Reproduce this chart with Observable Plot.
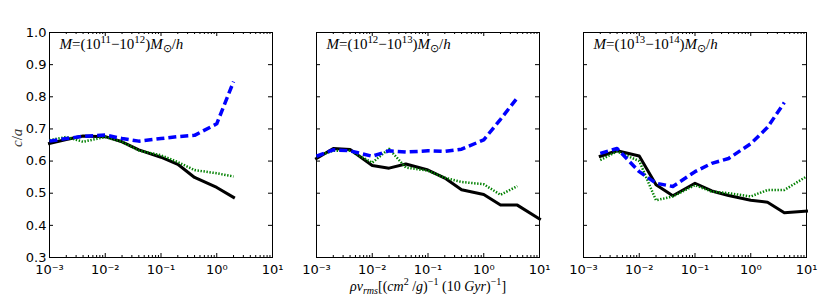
<!DOCTYPE html>
<html><head><meta charset="utf-8">
<script src="https://cdn.jsdelivr.net/npm/d3@7"></script>
<script src="https://cdn.jsdelivr.net/npm/@observablehq/plot@0.6"></script>
<style>
body{margin:0;background:#fff;}
#chart{position:relative;width:830px;height:302px;background:#fff;}
#chart svg{position:absolute;top:0;}
</style></head><body><div id="chart"></div>
<script>
// ---- data ----
const xs = [0.001, 0.002, 0.004, 0.01, 0.02, 0.04, 0.1, 0.2, 0.4, 1, 2, 4, 10];
const panelLabels = ["M=(10^{11}−10^{12})M_{⊙}/h", "M=(10^{12}−10^{13})M_{⊙}/h", "M=(10^{13}−10^{14})M_{⊙}/h"];
const black1 = [0.655, 0.667, 0.678, 0.676, 0.660, 0.635, 0.612, 0.590, 0.549, 0.518, 0.487, null, null];
const green1 = [0.665, 0.675, 0.660, 0.675, 0.660, 0.633, 0.618, 0.597, 0.572, 0.562, 0.552, null, null];
const blue1  = [0.662, 0.670, 0.677, 0.681, 0.670, 0.662, 0.670, 0.676, 0.680, 0.716, 0.847, null, null];
const black2 = [0.608, 0.639, 0.636, 0.586, 0.578, 0.591, 0.572, 0.547, 0.511, 0.496, 0.463, 0.463, 0.420];
const green2 = [0.615, 0.632, 0.632, 0.595, 0.638, 0.580, 0.570, 0.548, 0.535, 0.528, 0.495, 0.522, null];
const blue2  = [0.615, 0.635, 0.632, 0.615, 0.632, 0.628, 0.632, 0.630, 0.637, 0.666, 0.730, 0.797, null];
const black3 = [null, 0.615, 0.632, 0.616, 0.526, 0.492, 0.531, 0.507, 0.493, 0.478, 0.472, 0.439, 0.444];
const green3 = [null, 0.603, 0.630, 0.600, 0.478, 0.490, 0.525, 0.505, 0.500, 0.490, 0.510, 0.510, 0.552];
const blue3  = [null, 0.624, 0.639, 0.567, 0.531, 0.521, 0.567, 0.593, 0.608, 0.654, 0.705, 0.782, null];
const xMajor = [0.001, 0.01, 0.1, 1, 10];
const xTickLabels = ["10⁻³", "10⁻²", "10⁻¹", "10⁰", "10¹"];
const yTicks = [0.3, 0.4, 0.5, 0.6, 0.7, 0.8, 0.9, 1.0];
const yLabel = "c/a";
const xLabel = "ρv_{rms}[(cm^{2} /g)^{−1} (10 Gyr)^{−1}]";

const panels = [
  {label: panelLabels[0], black: black1, green: green1, blue: blue1},
  {label: panelLabels[1], black: black2, green: green2, blue: blue2},
  {label: panelLabels[2], black: black3, green: green3, blue: blue3}
];

// ---- helpers ----
const xMinor = [];
for (const d of [0.001, 0.01, 0.1, 1]) for (let k = 2; k <= 9; k++) xMinor.push(d * k);

const SVGNS = "http://www.w3.org/2000/svg";
function buildMath(textEl, src, fs) {
  textEl.textContent = "";
  const segs = [];
  let i = 0, buf = "";
  while (i < src.length) {
    const c = src[i];
    if ((c === "^" || c === "_") && src[i + 1] === "{") {
      if (buf) segs.push({text: buf, level: 0});
      buf = "";
      const j = src.indexOf("}", i);
      segs.push({text: src.slice(i + 2, j), level: c === "^" ? 1 : -1});
      i = j + 1;
    } else { buf += c; i++; }
  }
  if (buf) segs.push({text: buf, level: 0});
  let cur = 0;
  for (const s of segs) {
    const size = s.level ? fs * 0.72 : fs;
    const target = s.level === 1 ? -fs * 0.4 : s.level === -1 ? fs * 0.22 : 0;
    const runs = s.text.match(/[A-Za-zρ]+|[^A-Za-zρ]+/g) || [];
    runs.forEach((r, k) => {
      const t = document.createElementNS(SVGNS, "tspan");
      t.textContent = r;
      t.setAttribute("font-size", size);
      if (/[A-Za-zρ]/.test(r)) t.setAttribute("font-style", "italic");
      if (k === 0 && target !== cur) { t.setAttribute("dy", target - cur); cur = target; }
      textEl.appendChild(t);
    });
  }
}
const mathRender = fs => (index, scales, values, dims, ctx, next) => {
  const g = next(index, scales, values, dims, ctx);
  g.querySelectorAll("text").forEach(t => buildMath(t, t.textContent, fs));
  return g;
};

const frameX = [49, 316, 583];
const mL = 49, mR = 16, mT = 32, mB = 45, innerW = 223, H = 302;
const innerH = H - mT - mB;
const W = mL + innerW + mR;
const mathFont = "Liberation Serif";
const yMin = 0.3, yMax = 1.0, xMin = 1e-3, xMax = 10;
// tick lengths in pixels converted to data extents
const ty = px => (yMax - yMin) * px / innerH;
const tx = px => Math.pow(xMax / xMin, px / innerW);

const chart = document.getElementById("chart");
panels.forEach((p, pi) => {
  const rows = s => xs.map((x, i) => ({x, y: p[s][i]})).filter(d => d.y != null);
  const tickStyle = {stroke: "#000", strokeWidth: 1};
  const marks = [
    Plot.frame({stroke: "#000", strokeWidth: 1}),
    Plot.ruleX(xMajor, {x: d => d, y1: yMin, y2: yMin + ty(4), ...tickStyle}),
    Plot.ruleX(xMajor, {x: d => d, y1: yMax, y2: yMax - ty(4), ...tickStyle}),
    Plot.ruleX(xMinor, {x: d => d, y1: yMin, y2: yMin + ty(2), ...tickStyle}),
    Plot.ruleX(xMinor, {x: d => d, y1: yMax, y2: yMax - ty(2), ...tickStyle}),
    Plot.ruleY(yTicks, {y: d => d, x1: xMin, x2: xMin * tx(4), ...tickStyle}),
    Plot.ruleY(yTicks, {y: d => d, x1: xMax, x2: xMax / tx(4), ...tickStyle}),
    Plot.line(rows("black"), {x: "x", y: "y", stroke: "#000", strokeWidth: 3, strokeLinecap: "square", strokeLinejoin: "round"}),
    Plot.line(rows("green"), {x: "x", y: "y", stroke: "#008000", strokeWidth: 2.5, strokeDasharray: "1.4,1.6", strokeLinecap: "butt", strokeLinejoin: "round"}),
    Plot.line(rows("blue"), {x: "x", y: "y", stroke: "#0000ff", strokeWidth: 3.5, strokeDasharray: "8,4", strokeLinecap: "butt", strokeLinejoin: "round"}),
    Plot.text([p.label], {text: d => d, frameAnchor: "top-left", dx: 10, dy: 6, fontFamily: mathFont, fontSize: 15, fill: "#000", render: mathRender(15)}),
    Plot.axisX(xMajor, {tickSize: 0, tickPadding: 7, label: null, tickFormat: d => xTickLabels[xMajor.indexOf(d)], fontSize: 13, fill: "#000"})
  ];
  if (pi === 0) {
    marks.push(Plot.axisY(yTicks, {tickSize: 0, tickPadding: 3, label: null, tickFormat: d => d.toFixed(1), fontSize: 13, fill: "#000"}));
    marks.push(Plot.text([yLabel], {text: d => d, frameAnchor: "left", dx: -32, dy: 2, rotate: -90, fontFamily: mathFont, fontSize: 15, fill: "#333", render: mathRender(15)}));
  }
  if (pi === 1) {
    marks.push(Plot.text([xLabel], {text: d => d, frameAnchor: "bottom", dy: 33, fontFamily: mathFont, fontSize: 14, fill: "#000", render: mathRender(14)}));
  }
  const svg = Plot.plot({
    width: W, height: H,
    marginLeft: mL, marginRight: mR, marginTop: mT, marginBottom: mB,
    x: {type: "log", domain: [xMin, xMax], axis: null},
    y: {domain: [yMin, yMax], axis: null},
    style: {fontFamily: "DejaVu Sans", fontSize: "13px", overflow: "visible", background: "transparent", color: "#000"},
    marks
  });
  svg.style.left = (frameX[pi] - mL) + "px";
  chart.appendChild(svg);
});
</script></body></html>
